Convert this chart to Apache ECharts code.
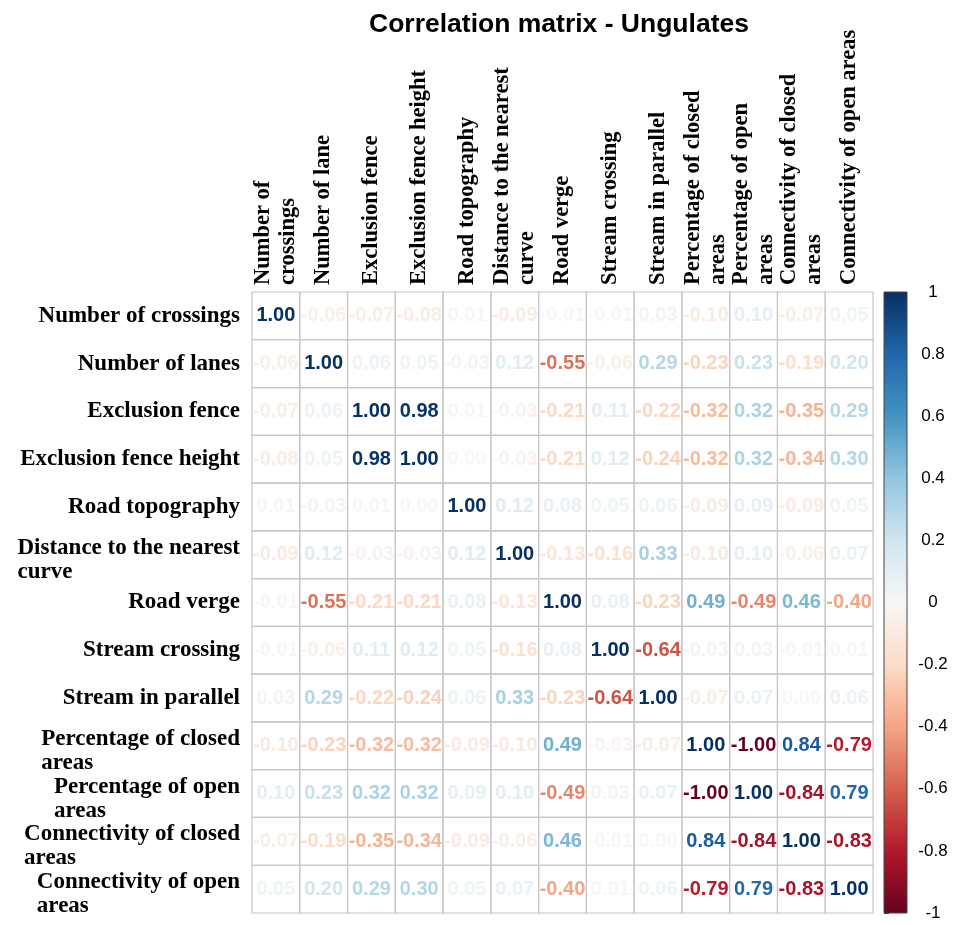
<!DOCTYPE html>
<html>
<head>
<meta charset="utf-8">
<script src="https://cdn.jsdelivr.net/npm/echarts@6/dist/echarts.min.js"></script>
<style>
  html, body { margin: 0; padding: 0; background: #ffffff; }
  #main { width: 954px; height: 925px; }
</style>
</head>
<body>
<div id="main"></div>
<script>
// Variable names as shown on the rows (left) and columns (top)
const rowLabels = [
  'Number of crossings', 'Number of lanes', 'Exclusion fence', 'Exclusion fence height',
  'Road topography', 'Distance to the nearest\ncurve', 'Road verge', 'Stream crossing',
  'Stream in parallel', 'Percentage of closed\nareas', 'Percentage of open\nareas',
  'Connectivity of closed\nareas', 'Connectivity of open\nareas'
];
const colLabels = [
  'Number of\ncrossings', 'Number of lane', 'Exclusion fence', 'Exclusion fence height',
  'Road topography', 'Distance to the nearest\ncurve', 'Road verge', 'Stream crossing',
  'Stream in parallel', 'Percentage of closed\nareas', 'Percentage of open\nareas',
  'Connectivity of closed\nareas', 'Connectivity of open areas'
];

// Pearson correlations, one row per variable
const corr = [
  [ 1.00, -0.06, -0.07, -0.08,  0.01, -0.09, -0.01, -0.01,  0.03, -0.10,  0.10, -0.07,  0.05],
  [-0.06,  1.00,  0.06,  0.05, -0.03,  0.12, -0.55, -0.06,  0.29, -0.23,  0.23, -0.19,  0.20],
  [-0.07,  0.06,  1.00,  0.98,  0.01, -0.03, -0.21,  0.11, -0.22, -0.32,  0.32, -0.35,  0.29],
  [-0.08,  0.05,  0.98,  1.00,  0.00, -0.03, -0.21,  0.12, -0.24, -0.32,  0.32, -0.34,  0.30],
  [ 0.01, -0.03,  0.01,  0.00,  1.00,  0.12,  0.08,  0.05,  0.06, -0.09,  0.09, -0.09,  0.05],
  [-0.09,  0.12, -0.03, -0.03,  0.12,  1.00, -0.13, -0.16,  0.33, -0.10,  0.10, -0.06,  0.07],
  [-0.01, -0.55, -0.21, -0.21,  0.08, -0.13,  1.00,  0.08, -0.23,  0.49, -0.49,  0.46, -0.40],
  [-0.01, -0.06,  0.11,  0.12,  0.05, -0.16,  0.08,  1.00, -0.64, -0.03,  0.03, -0.01,  0.01],
  [ 0.03,  0.29, -0.22, -0.24,  0.06,  0.33, -0.23, -0.64,  1.00, -0.07,  0.07,  0.00,  0.06],
  [-0.10, -0.23, -0.32, -0.32, -0.09, -0.10,  0.49, -0.03, -0.07,  1.00, -1.00,  0.84, -0.79],
  [ 0.10,  0.23,  0.32,  0.32,  0.09,  0.10, -0.49,  0.03,  0.07, -1.00,  1.00, -0.84,  0.79],
  [-0.07, -0.19, -0.35, -0.34, -0.09, -0.06,  0.46, -0.01,  0.00,  0.84, -0.84,  1.00, -0.83],
  [ 0.05,  0.20,  0.29,  0.30,  0.05,  0.07, -0.40,  0.01,  0.06, -0.79,  0.79, -0.83,  1.00]
];

// Diverging red-blue scale from -1 to 1
const palette = ['#67001F', '#B2182B', '#D6604D', '#F4A582', '#FDDBC7', '#F7F7F7',
                 '#D1E5F0', '#92C5DE', '#4393C3', '#2166AC', '#053061'];
const scaleTicks = ['-1', '-0.8', '-0.6', '-0.4', '-0.2', '0', '0.2', '0.4', '0.6', '0.8', '1'];

const cells = [];
corr.forEach((row, r) => row.forEach((v, c) => cells.push([c, r, v])));

const serif = '"Liberation Serif", "Times New Roman", serif';
const sans = '"Liberation Sans", Arial, sans-serif';

const chart = echarts.init(document.getElementById('main'), null, { renderer: 'canvas' });

// Row names: lines left-aligned inside a right-anchored block; wrapped names sit a little lower
function rowLabelText(v) {
  const lines = v.split('\n');
  if (lines.length === 1) return '{l|' + v + '}';
  return '{f|' + lines[0] + '}\n' + lines.slice(1).map((l) => '{l|' + l + '}').join('\n');
}
const rowFont = { fontFamily: serif, fontWeight: 'bold', fontSize: 23, lineHeight: 25, color: '#000', align: 'left' };

chart.setOption({
  backgroundColor: '#ffffff',
  animation: false,
  title: {
    text: 'Correlation matrix - Ungulates',
    left: 554,
    top: 6,
    textAlign: 'center',
    textStyle: { fontFamily: sans, fontWeight: 'bold', fontSize: 26.5, color: '#000' }
  },
  visualMap: {
    show: false,
    type: 'continuous',
    seriesIndex: 0,
    dimension: 2,
    min: -1,
    max: 1,
    inRange: { color: palette }
  },
  grid: [
    { left: 252, top: 292, width: 621, height: 621 },
    { left: 884, top: 292, width: 23, height: 621 }
  ],
  xAxis: [
    {
      type: 'category', gridIndex: 0, position: 'top', data: colLabels,
      axisLine: { show: false }, axisTick: { show: false }, splitLine: { show: false },
      axisLabel: {
        interval: 0, rotate: -90, margin: 7,
        fontFamily: serif, fontWeight: 'bold', fontSize: 22.5, lineHeight: 25, color: '#000'
      }
    },
    { type: 'value', gridIndex: 1, min: 0, max: 1, show: false }
  ],
  yAxis: [
    {
      type: 'category', gridIndex: 0, inverse: true, data: rowLabels,
      axisLine: { show: false }, axisTick: { show: false }, splitLine: { show: false },
      axisLabel: {
        interval: 0, margin: 12, align: 'right',
        formatter: rowLabelText,
        rich: {
          l: rowFont,
          f: Object.assign({}, rowFont, { lineHeight: 34, verticalAlign: 'bottom' })
        }
      }
    },
    {
      type: 'value', gridIndex: 1, position: 'right', min: -1, max: 1, interval: 0.2,
      axisLine: { show: false }, splitLine: { show: false },
      axisTick: { show: true, length: 5, lineStyle: { color: '#333', width: 1 } },
      axisLabel: {
        margin: 26, align: 'center',
        fontFamily: sans, fontSize: 17, color: '#000',
        formatter: (v) => scaleTicks[Math.round((v + 1) / 0.2)]
      }
    }
  ],
  series: [
    {
      type: 'custom',
      xAxisIndex: 0, yAxisIndex: 0,
      data: cells,
      encode: { x: 0, y: 1 },
      renderItem: (params, api) => {
        const p = api.coord([api.value(0), api.value(1)]);
        const s = api.size([1, 1]);
        return {
          type: 'group',
          children: [
            {
              type: 'rect', z2: 0,
              shape: { x: p[0] - s[0] / 2, y: p[1] - s[1] / 2, width: s[0], height: s[1] },
              style: { fill: 'none', stroke: '#c6c6c6', lineWidth: 1.2 }
            },
            {
              type: 'text', z2: 10, x: p[0], y: p[1],
              style: {
                text: api.value(2).toFixed(2),
                fill: api.visual('color'),
                font: 'bold 20px ' + sans,
                align: 'center', verticalAlign: 'middle'
              }
            }
          ]
        };
      }
    },
    {
      // colour key bar
      type: 'custom',
      xAxisIndex: 1, yAxisIndex: 1,
      data: [[0, -1, 1, 1]],
      renderItem: (params, api) => {
        const a = api.coord([api.value(0), api.value(3)]);
        const b = api.coord([api.value(2), api.value(1)]);
        const stops = palette.slice().reverse().map((c, i) => ({ offset: i / (palette.length - 1), color: c }));
        return {
          type: 'rect',
          shape: { x: a[0], y: a[1], width: b[0] - a[0], height: b[1] - a[1] },
          style: {
            fill: new echarts.graphic.LinearGradient(0, 0, 0, 1, stops),
            stroke: '#444', lineWidth: 1
          }
        };
      }
    }
  ]
});
</script>
</body>
</html>
